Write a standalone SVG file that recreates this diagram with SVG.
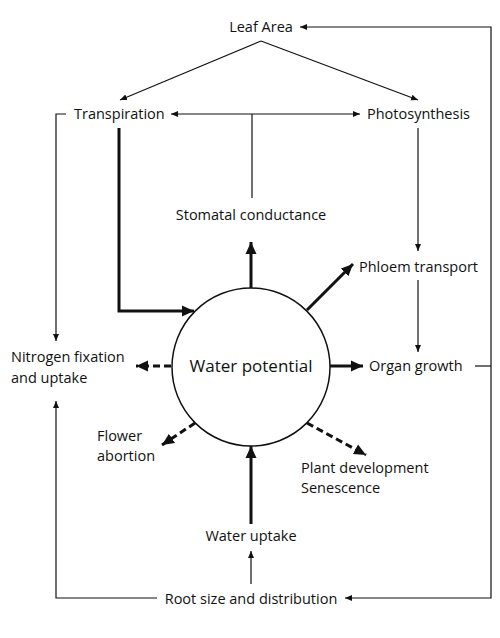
<svg xmlns="http://www.w3.org/2000/svg" width="500" height="638" viewBox="0 0 500 638">
<defs>
<style>
text{font-family:"Open Sans","Liberation Sans",Arial,sans-serif;font-size:14.5px;fill:#111}
.t{stroke:#111;stroke-width:1.2;fill:none}
.k{stroke:#111;stroke-width:3;fill:none}
.d{stroke:#111;stroke-width:3;fill:none;stroke-dasharray:7,4}
</style>
<marker id="a" markerUnits="userSpaceOnUse" markerWidth="8" markerHeight="8" refX="7" refY="4" orient="auto"><path d="M0,1 L7,4 L0,7 Z" fill="#111"/></marker>
<marker id="b" markerUnits="userSpaceOnUse" markerWidth="14" markerHeight="12" refX="12" refY="6" orient="auto"><path d="M0,0.5 L12,6 L0,11.5 Z" fill="#111"/></marker>
</defs>
<rect width="500" height="638" fill="#fff"/>
<g id="connectors">
<path class="t" d="M261,41 L120,100" marker-end="url(#a)"/>
<path class="t" d="M261,41 L418,100" marker-end="url(#a)"/>
<path class="t" d="M491,366 L491,27 L300,27" marker-end="url(#a)"/>
<path class="t" d="M475,366 L491,366"/>
<path class="t" d="M491,366 L491,598 L345,598" marker-end="url(#a)"/>
<path class="t" d="M252,114 L171,114" marker-end="url(#a)"/>
<path class="t" d="M252,114 L360,114" marker-end="url(#a)"/>
<path class="t" d="M252,114 L252,198"/>
<path class="t" d="M66,114 L56,114 L56,341" marker-end="url(#a)"/>
<path class="t" d="M157,598 L56,598 L56,401" marker-end="url(#a)"/>
<path class="t" d="M418,128 L418,251" marker-end="url(#a)"/>
<path class="t" d="M418,280 L418,352" marker-end="url(#a)"/>
<path class="t" d="M251,584 L251,551" marker-end="url(#a)"/>
<path class="k" d="M119,128 L119,311 L194,311" marker-end="url(#b)"/>
<path class="k" d="M251,288 L251,242" marker-end="url(#b)"/>
<path class="k" d="M307,310 L353,264" marker-end="url(#b)"/>
<path class="k" d="M330,366 L363,366" marker-end="url(#b)"/>
<path class="k" d="M251,524 L251,446" marker-end="url(#b)"/>
<path class="d" d="M171,366 L136,366" marker-end="url(#b)"/>
<path class="d" d="M195,423 L162,445" marker-end="url(#b)"/>
<path class="d" d="M307,423 L366,455" marker-end="url(#b)"/>
</g>
<g id="water-potential"><circle cx="251" cy="367" r="79" fill="#fff" stroke="#111" stroke-width="1.5"/><text x="251" y="372" text-anchor="middle" style="font-size:17px">Water potential</text></g>
<g id="leaf-area"><text x="261" y="32" text-anchor="middle">Leaf Area</text></g>
<g id="transpiration"><text x="74" y="119">Transpiration</text></g>
<g id="photosynthesis"><text x="367" y="119">Photosynthesis</text></g>
<g id="stomatal-conductance"><text x="251" y="220" text-anchor="middle">Stomatal conductance</text></g>
<g id="phloem-transport"><text x="359" y="272">Phloem transport</text></g>
<g id="organ-growth"><text x="369" y="371">Organ growth</text></g>
<g id="nitrogen"><text x="11" y="362">Nitrogen fixation</text><text x="11" y="383">and uptake</text></g>
<g id="flower-abortion"><text x="97" y="441">Flower</text><text x="97" y="461">abortion</text></g>
<g id="plant-development"><text x="301" y="473">Plant development</text><text x="301" y="493">Senescence</text></g>
<g id="water-uptake"><text x="251" y="541" text-anchor="middle">Water uptake</text></g>
<g id="root-size"><text x="251" y="604" text-anchor="middle">Root size and distribution</text></g>
</svg>
